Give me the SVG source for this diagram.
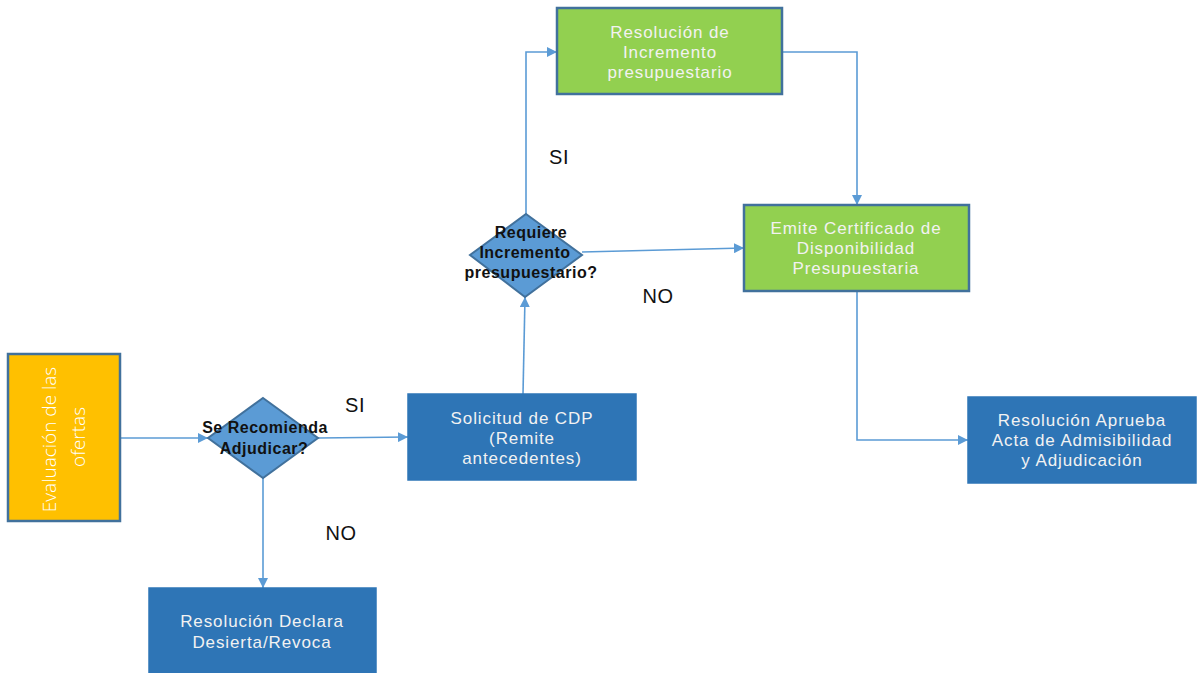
<svg xmlns="http://www.w3.org/2000/svg" width="1198" height="673" viewBox="0 0 1198 673">
  <defs>
    <marker id="arrow" viewBox="0 0 10 10" refX="10" refY="5" markerWidth="10" markerHeight="10" markerUnits="userSpaceOnUse" orient="auto">
      <path d="M0,0 L10,5 L0,10 Z" fill="#5B9BD5"/>
    </marker>
    <style>
      .box-blue { fill: #2E75B6; stroke: #2E75B6; stroke-width: 1.5; }
      .box-green { fill: #92D050; stroke: #41719C; stroke-width: 2.5; }
      .box-yellow { fill: #FFC000; stroke: #41719C; stroke-width: 2.5; }
      .diamond { fill: #5B9BD5; stroke: #41719C; stroke-width: 2; }
      .label-w { font-family: "Liberation Sans", Arial, sans-serif; font-size: 17px; letter-spacing: 0.9px; fill: #F2F2F2; text-anchor: middle; }
      .label-d { font-family: "Liberation Sans", Arial, sans-serif; font-size: 16px; letter-spacing: 0.5px; font-weight: bold; fill: #111111; text-anchor: middle; }
      .edge-label { font-family: "Liberation Sans", Arial, sans-serif; font-size: 20px; letter-spacing: 0.6px; fill: #111111; text-anchor: middle; }
      .conn { fill: none; stroke: #5B9BD5; stroke-width: 1.6; }
    </style>
  </defs>

  <rect width="1198" height="673" fill="#FFFFFF"/>

  <!-- connectors -->
  <g id="connectors">
    <path class="conn" d="M120,438 L208,438" marker-end="url(#arrow)"/>
    <path class="conn" d="M318,438 L408,437" marker-end="url(#arrow)"/>
    <path class="conn" d="M263,478 L263,588" marker-end="url(#arrow)"/>
    <path class="conn" d="M523,394 L525,297" marker-end="url(#arrow)"/>
    <path class="conn" d="M582,252 L744,248" marker-end="url(#arrow)"/>
    <path class="conn" d="M526,214 L526,52 L557,52" marker-end="url(#arrow)"/>
    <path class="conn" d="M782,52 L857,52 L857,205" marker-end="url(#arrow)"/>
    <path class="conn" d="M857,291 L857,440 L968,440" marker-end="url(#arrow)"/>
    <text class="edge-label" x="355" y="412">SI</text>
    <text class="edge-label" x="341" y="540">NO</text>
    <text class="edge-label" x="559" y="164">SI</text>
    <text class="edge-label" x="658" y="303">NO</text>
  </g>

  <g id="evaluacion">
    <rect class="box-yellow" x="8" y="354" width="112" height="167"/>
    <text transform="translate(64,437) rotate(-90)" font-family="'Open Sans', 'Liberation Sans', sans-serif" font-size="19" font-weight="300" fill="#FFFFFF" text-anchor="middle">
      <tspan x="0" y="-8">Evaluación de las</tspan>
      <tspan x="0" y="21">ofertas</tspan>
    </text>
  </g>

  <g id="recomienda">
    <polygon class="diamond" points="263,398 318,438 263,478 208,438"/>
    <text class="label-d"><tspan x="265" y="433">Se Recomienda</tspan><tspan x="264" y="454">Adjudicar?</tspan></text>
  </g>

  <g id="declara-desierta">
    <rect class="box-blue" x="149" y="588" width="227" height="90"/>
    <text class="label-w"><tspan x="262" y="627">Resolución Declara</tspan><tspan x="262" y="648">Desierta/Revoca</tspan></text>
  </g>

  <g id="solicitud-cdp">
    <rect class="box-blue" x="408" y="394" width="228" height="86"/>
    <text class="label-w"><tspan x="522" y="424">Solicitud de CDP</tspan><tspan x="522" y="444">(Remite</tspan><tspan x="522" y="464">antecedentes)</tspan></text>
  </g>

  <g id="requiere-incremento">
    <polygon class="diamond" points="526,214 582,255 525,297 470,255"/>
    <text class="label-d"><tspan x="531" y="238">Requiere</tspan><tspan x="525" y="258">Incremento</tspan><tspan x="531" y="278">presupuestario?</tspan></text>
  </g>

  <g id="resolucion-incremento">
    <rect class="box-green" x="557" y="8" width="225" height="86"/>
    <text class="label-w"><tspan x="670" y="38">Resolución de</tspan><tspan x="670" y="58">Incremento</tspan><tspan x="670" y="78">presupuestario</tspan></text>
  </g>

  <g id="emite-certificado">
    <rect class="box-green" x="744" y="205" width="225" height="86"/>
    <text class="label-w"><tspan x="856" y="234">Emite Certificado de</tspan><tspan x="856" y="254">Disponibilidad</tspan><tspan x="856" y="274">Presupuestaria</tspan></text>
  </g>

  <g id="aprueba-acta">
    <rect class="box-blue" x="968" y="397" width="228" height="86"/>
    <text class="label-w"><tspan x="1082" y="426">Resolución Aprueba</tspan><tspan x="1082" y="446">Acta de Admisibilidad</tspan><tspan x="1082" y="466">y Adjudicación</tspan></text>
  </g>
</svg>
